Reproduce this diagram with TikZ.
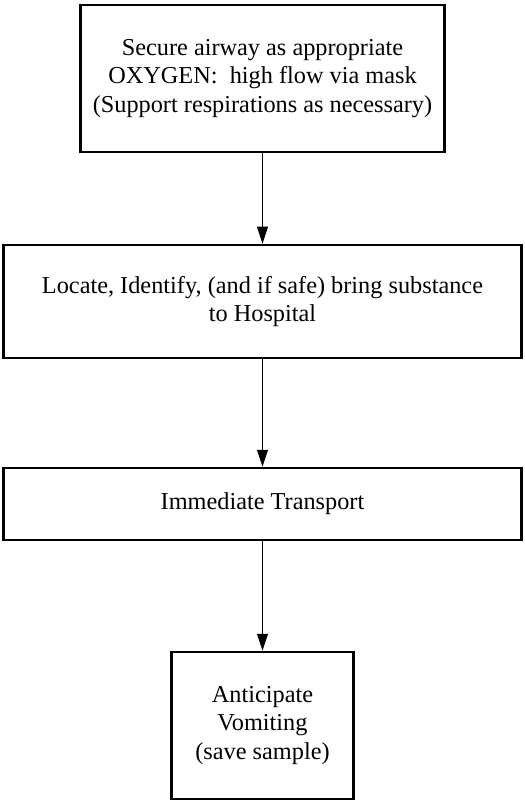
\documentclass[tikz,border=0pt]{standalone}
\usepackage{fontspec}
\setmainfont{Liberation Serif}
\usetikzlibrary{arrows.meta}
\begin{document}
\begin{tikzpicture}[x=1pt,y=-1pt,
  box/.style={draw, line width=2.5pt, align=center, inner sep=0pt,
    font=\fontsize{24.3}{28.5}\selectfont},
  conn/.style={-{Triangle[length=17pt,width=11pt]}, line width=1pt}]
\useasboundingbox (0,0) rectangle (524,802);
\node[box, minimum width=364pt, minimum height=147pt] (b1) at (262.5,78.5)
  {Secure airway as appropriate\\OXYGEN:\ \ high flow via mask\\(Support respirations as necessary)};
\node[box, minimum width=518pt, minimum height=113pt] (b2) at (262.5,301.5)
  {Locate, Identify, (and if safe) bring substance\\to Hospital};
\node[box, minimum width=518pt, minimum height=72pt] (b3) at (262.5,504)
  {Immediate Transport};
\node[box, minimum width=182pt, minimum height=147pt] (b4) at (262.5,725.5)
  {Anticipate\\Vomiting\\(save sample)};
\draw[conn] (b1.south) -- (b2.north);
\draw[conn] (b2.south) -- (b3.north);
\draw[conn] (b3.south) -- (b4.north);
\end{tikzpicture}
\end{document}
